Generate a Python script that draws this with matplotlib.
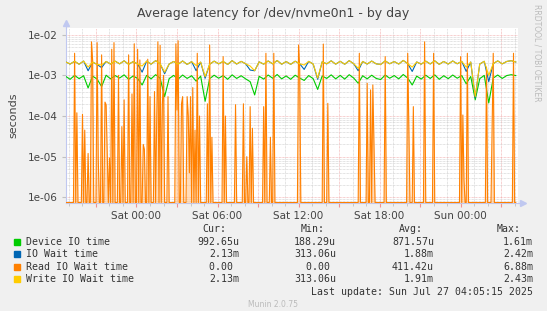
import numpy as np
import matplotlib
matplotlib.use("Agg")
import matplotlib.pyplot as plt
from matplotlib.ticker import FixedLocator, NullFormatter

# time axis: hours relative to Sat 00:00
t_start = -5.25          # Fri 18:45
step_20min = 1.0 / 3.0
step_5min = 1.0 / 12.0

# 20 minute samples, milliseconds
device_ms = [0.95, 0.80, 1.00, 0.83, 0.98, 0.49, 0.96, 0.81, 0.53, 1.01,
             0.82, 0.99, 0.86, 1.03, 0.80, 0.97, 0.84, 0.58, 1.00, 0.82,
             1.04, 0.85, 0.30, 0.83, 1.00, 0.81, 1.02, 0.84, 0.98, 0.72,
             0.96, 0.23, 0.83, 1.01, 0.85, 0.99, 0.80, 1.03, 0.84, 0.98,
             0.82, 0.70, 0.33, 0.95, 0.81, 1.02, 0.85, 1.05, 0.82, 0.97,
             0.80, 1.01, 0.86, 0.75, 0.99, 0.83, 0.45, 0.97, 0.84, 1.03,
             0.82, 1.00, 0.81, 1.04, 0.86, 0.64, 0.98, 0.82, 1.01, 0.84,
             0.79, 1.02, 0.85, 0.99, 0.82, 1.05, 0.86, 0.58, 0.96, 0.81,
             1.01, 0.84, 1.03, 0.80, 0.98, 0.83, 1.02, 0.85, 0.99, 0.62,
             0.94, 0.25, 0.83, 1.00, 0.21, 0.86, 1.02, 0.84, 0.99, 1.04, 0.99]

write_ms = [2.15, 1.90, 2.22, 1.88, 2.25, 1.60, 2.12, 1.86, 1.80, 2.20,
            1.90, 2.24, 1.92, 2.28, 1.87, 2.18, 1.91, 1.70, 2.24, 1.89,
            2.30, 1.93, 1.20, 1.90, 2.20, 1.88, 2.26, 1.86, 2.18, 1.75,
            2.12, 0.93, 1.88, 2.24, 1.92, 2.20, 1.86, 2.30, 1.90, 2.21,
            1.93, 1.70, 1.30, 2.15, 1.89, 2.26, 1.92, 2.32, 1.88, 2.19,
            1.87, 2.23, 1.93, 1.80, 2.21, 1.90, 0.86, 2.16, 1.92, 2.28,
            1.89, 2.22, 1.88, 2.30, 1.94, 1.50, 2.20, 1.90, 2.25, 1.92,
            1.86, 2.27, 1.93, 2.19, 1.90, 2.33, 1.95, 1.60, 2.14, 1.89,
            2.24, 1.91, 2.28, 1.87, 2.20, 1.90, 2.26, 1.93, 2.21, 1.60,
            2.13, 0.30, 1.90, 2.22, 1.00, 1.95, 2.27, 1.92, 2.20, 2.30, 2.13]

iowait_ms = [2.15, 1.90, 2.22, 1.88, 2.25, 1.30, 2.12, 1.86, 1.55, 2.20,
             1.90, 2.24, 1.92, 2.28, 1.87, 2.18, 1.91, 1.20, 2.24, 1.89,
             2.30, 1.93, 1.10, 1.90, 2.20, 1.88, 2.26, 1.86, 2.18, 1.30,
             2.12, 0.85, 1.88, 2.24, 1.92, 2.20, 1.86, 2.30, 1.90, 2.21,
             1.93, 1.35, 1.30, 2.15, 1.89, 2.26, 1.92, 2.32, 1.88, 2.19,
             1.87, 2.23, 1.93, 1.40, 2.21, 1.90, 0.80, 2.16, 1.92, 2.28,
             1.89, 2.22, 1.88, 2.30, 1.94, 1.30, 2.20, 1.90, 2.25, 1.92,
             1.86, 2.27, 1.93, 2.19, 1.90, 2.33, 1.95, 1.25, 2.14, 1.89,
             2.24, 1.91, 2.28, 1.87, 2.20, 1.90, 2.26, 1.93, 2.21, 1.25,
             2.13, 0.28, 1.90, 2.22, 0.70, 1.95, 2.27, 1.92, 2.20, 2.30, 2.13]

# read io wait: zero except these 5 minute samples (hour, seconds)
read_hours = [-4.61, -4.41, -4.04, -3.96, -3.87, -3.62, -3.37, -3.29, -2.93, -2.85,
              -2.58, -2.33, -2.21, -2.13, -1.96, -1.84, -1.67, -1.30, -1.10, -0.93,
              -0.61, -0.30, -0.19, 0.06, 0.26, 0.48, 0.60, 0.85, 1.00, 1.30,
              1.52, 1.61, 1.74, 1.90, 2.04, 2.36, 2.93, 2.98, 3.06, 3.32,
              3.44, 3.74, 3.82, 3.90, 4.01, 4.19, 4.33, 4.50, 4.70, 5.25,
              5.42, 5.59, 6.43, 6.56, 7.30, 7.89, 8.19, 8.41, 8.56, 9.39,
              9.59, 9.89, 10.13, 11.99, 12.07, 13.84, 14.13, 16.50, 17.05, 17.30,
              17.54, 17.62, 18.41, 20.09, 20.17, 20.50, 21.30, 21.99, 23.96, 24.16,
              24.24, 24.46, 25.94, 26.31, 26.43, 27.91]
read_vals = [3.5e-3, 1.2e-4, 5.1e-3, 1.1e-4, 4.5e-5, 1.2e-5, 6.7e-3, 2.4e-3, 6.4e-3, 9e-6,
             3.2e-3, 2.2e-4, 1.9e-4, 1.2e-5, 9.3e-6, 4.4e-3, 6.4e-3, 1.0e-3, 5.5e-5, 2.5e-4,
             3.2e-3, 3.5e-4, 6.0e-3, 4.4e-3, 2.4e-3, 2.0e-5, 1.5e-5, 2.5e-3, 3.0e-4, 4.0e-4,
             1.0e-4, 6.7e-3, 5.5e-3, 2.0e-4, 1.0e-3, 3.0e-4, 6.0e-3, 1.4e-4, 7.1e-3, 2.0e-4,
             3.0e-4, 3.0e-4, 1.0e-4, 4e-6, 3.0e-4, 5.0e-4, 4.5e-5, 3.5e-3, 1.0e-4, 2.0e-4,
             5.6e-3, 3.0e-5, 2.9e-3, 1.0e-4, 1.9e-4, 2.0e-4, 1.0e-5, 1.7e-4, 5.0e-5, 1.7e-4,
             3.5e-3, 3.0e-5, 3.5e-3, 5.6e-3, 1.5e-3, 5.9e-3, 2.05e-4, 3.5e-3, 6.4e-4, 4.4e-4,
             5.8e-4, 2.3e-5, 2.9e-3, 3.5e-3, 6e-5, 1.7e-4, 6.7e-3, 3.5e-3, 2.9e-3, 1.06e-4,
             2.7e-6, 3.5e-3, 1.6e-3, 5.5e-5, 3.5e-3, 3.5e-3]

xtick_hours = [0, 6, 12, 18, 24]
xtick_labels = ["Sat 00:00", "Sat 06:00", "Sat 12:00", "Sat 18:00", "Sun 00:00"]

legend_names = ["Device IO time", "IO Wait time", "Read IO Wait time", "Write IO Wait time"]
colors = ["#00CC00", "#0066B3", "#FF8000", "#FFCC00"]
cur = ["992.65u", "2.13m", "0.00 ", "2.13m"]
mins = ["188.29u", "313.06u", "0.00 ", "313.06u"]
avgs = ["871.57u", "1.88m", "411.42u", "1.91m"]
maxs = ["1.61m", "2.42m", "6.88m", "2.43m"]

# ---------------------------------------------------------------
W, H = 547, 311
fig = plt.figure(figsize=(W / 100, H / 100), dpi=100, facecolor="#F0F0F0")
x0, x1, y_top, y_bot = 66, 518, 28.3, 202.7
ax = fig.add_axes([x0 / W, 1 - y_bot / H, (x1 - x0) / W, (y_bot - y_top) / H])
ax.set_facecolor("white")

ymin, ymax = 7.36e-7, 1.44e-2
xmin, xmax = -5.22, 28.25

t20 = t_start + step_20min * np.arange(len(device_ms))
n5 = int(round((t20[-1] - t_start) / step_5min)) + 1
t5 = t_start + step_5min * np.arange(n5)
read = np.zeros(n5)
for h, v in zip(read_hours, read_vals):
    read[int(round((h - t_start) / step_5min))] = v
read_plot = np.maximum(read, ymin * 1.01)

lw = 0.8
ax.plot(t20, np.array(device_ms) * 1e-3, color=colors[0], lw=lw, zorder=3)
ax.plot(t20, np.array(iowait_ms) * 1e-3, color=colors[1], lw=lw, zorder=4)
ax.fill_between(t5, ymin, read_plot, color="#FFB366", alpha=0.45, lw=0, zorder=4.5)
ax.plot(t5, read_plot, color=colors[2], lw=lw, zorder=5)
ax.plot(t20, np.array(write_ms) * 1e-3, color=colors[3], lw=lw, zorder=6)

ax.set_yscale("log")
ax.set_ylim(ymin, ymax)
ax.set_xlim(xmin, xmax)

# grids
ax.xaxis.set_major_locator(FixedLocator(np.arange(-3, 28, 3)))
ax.xaxis.set_minor_locator(FixedLocator(np.arange(-5, 29, 1)))
ax.set_xticklabels(["" if h not in xtick_hours else xtick_labels[xtick_hours.index(h)]
                    for h in np.arange(-3, 28, 3)])
ax.yaxis.set_major_locator(FixedLocator([1e-6, 1e-5, 1e-4, 1e-3, 1e-2]))
ax.yaxis.set_minor_locator(FixedLocator([m * 10.0 ** e for e in range(-7, -1) for m in range(2, 10)]))
ax.yaxis.set_minor_formatter(NullFormatter())
ax.set_yticklabels(["1e-06", "1e-05", "1e-04", "1e-03", "1e-02"])

ax.grid(which="minor", color="#C8C8C8", ls=(0, (1, 1)), lw=0.5, zorder=1)
ax.grid(which="major", color="#F0A0A0", ls=(0, (1, 1)), lw=0.5, zorder=2)
ax.tick_params(axis="x", which="major", length=3, color="#F09090", labelsize=7.5,
               labelcolor="#444444", pad=3)
ax.tick_params(axis="x", which="minor", length=2, color="#C0C0C0")
ax.tick_params(axis="y", which="major", length=3, color="#C0C0C0", labelsize=7.5,
               labelcolor="#444444", pad=3)
ax.tick_params(axis="y", which="minor", length=0)

for s in ["top", "right"]:
    ax.spines[s].set_visible(False)
axis_col = "#C0C8F0"
ax.spines["left"].set_color(axis_col)
ax.spines["bottom"].set_color(axis_col)
ax.plot([1.0, 1.012], [0, 0], transform=ax.transAxes, color=axis_col, lw=0.8, clip_on=False)
ax.plot([1.012], [0], transform=ax.transAxes, marker=">", ms=4, color=axis_col, clip_on=False)
ax.plot([0, 0], [1.0, 1.033], transform=ax.transAxes, color=axis_col, lw=0.8, clip_on=False)
ax.plot([0], [1.033], transform=ax.transAxes, marker="^", ms=4, color=axis_col, clip_on=False)

ax.set_ylabel("seconds", fontsize=8, color="#444444", labelpad=7)

# title and side text
fig.text(273 / W, 1 - 14 / H, "Average latency for /dev/nvme0n1 - by day",
         ha="center", va="center", fontsize=9, color="#444444")
fig.text(537 / W, 1 - 53 / H, "RRDTOOL / TOBI OETIKER", rotation=270,
         ha="center", va="center", fontsize=5.5, color="#BBBBBB")

# legend block
mono = "DejaVu Sans Mono"
fs = 7.1
tc = "#333333"
rows_y = [241.9, 254.4, 266.6, 279.2]
head_y = 229
for lbl, xl in zip(["Cur:", "Min:", "Avg:", "Max:"], [202, 300.8, 398.8, 496.5]):
    fig.text(xl / W, 1 - head_y / H, lbl, ha="left", va="center", family=mono, fontsize=fs, color=tc)
for i in range(4):
    yy = 1 - rows_y[i] / H
    fig.patches.append(plt.Rectangle((13.7 / W, yy - 3 / H), 6 / W, 6 / H,
                                     transform=fig.transFigure, color=colors[i]))
    fig.text(26 / W, yy, legend_names[i], ha="left", va="center", family=mono, fontsize=fs, color=tc)
    for col, xr in zip([cur, mins, avgs, maxs], [239, 336, 434, 533]):
        fig.text(xr / W, yy, col[i], ha="right", va="center", family=mono, fontsize=fs, color=tc)
fig.text(533 / W, 1 - 291.8 / H, "Last update: Sun Jul 27 04:05:15 2025", ha="right", va="center",
         family=mono, fontsize=fs, color=tc)
fig.text(273 / W, 1 - 304.7 / H, "Munin 2.0.75", ha="center", va="center", fontsize=5.5,
         color="#BBBBBB")

fig.savefig("out.png", dpi=100, facecolor=fig.get_facecolor())
